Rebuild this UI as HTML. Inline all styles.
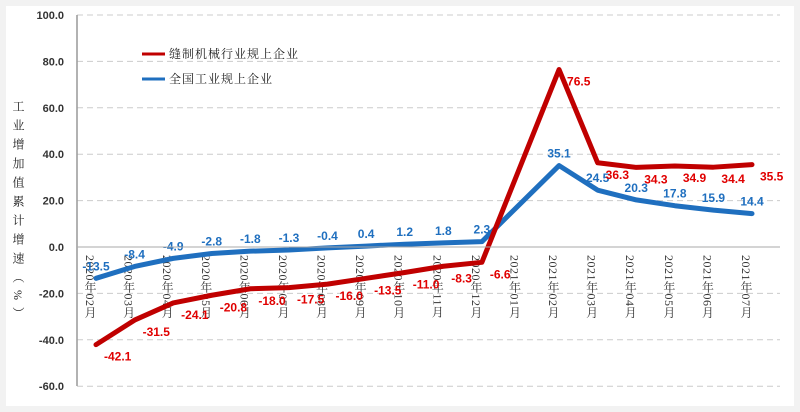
<!DOCTYPE html>
<html><head><meta charset="utf-8"><style>
body{margin:0;background:#f2f2f2;}
svg{display:block;}
</style></head><body>
<svg width="800" height="412" xmlns="http://www.w3.org/2000/svg">
<rect x="6" y="6" width="788" height="400" fill="#fff"/>
<g id="grid"></g><g id="yticks"></g><g id="xticks"></g><g id="series"></g><g id="labels"></g>
<line x1="77" y1="15" x2="77" y2="386" stroke="#999" stroke-width="1.5"/>
<line x1="77" y1="247" x2="780" y2="247" stroke="#aaa" stroke-width="1"/>
<text x="18" y="100" font-family="'Liberation Serif','Noto Serif CJK SC',serif" font-size="12" fill="#222" style="writing-mode:tb;letter-spacing:7px">工业增加值累计增速（%）</text>
<g>
<line x1="142" y1="54" x2="165" y2="54" stroke="#c00000" stroke-width="3"/>
<text x="169" y="58" font-family="'Liberation Serif','Noto Serif CJK SC',serif" font-size="12" fill="#222" letter-spacing="1">缝制机械行业规上企业</text>
<line x1="142" y1="79" x2="165" y2="79" stroke="#1f6fbf" stroke-width="3"/>
<text x="169" y="83" font-family="'Liberation Serif','Noto Serif CJK SC',serif" font-size="12" fill="#222" letter-spacing="1">全国工业规上企业</text>
</g>
</svg>
<script>
const categories=["2020年02月","2020年03月","2020年04月","2020年05月","2020年06月","2020年07月","2020年08月","2020年09月","2020年10月","2020年11月","2020年12月","2021年01月","2021年02月","2021年03月","2021年04月","2021年05月","2021年06月","2021年07月"];
const sewing=[-42.1,-31.5,-24.1,-20.8,-18.0,-17.5,-16.0,-13.5,-11.0,-8.3,-6.6,null,76.5,36.3,34.3,34.9,34.4,35.5];
const national=[-13.5,-8.4,-4.9,-2.8,-1.8,-1.3,-0.4,0.4,1.2,1.8,2.3,null,35.1,24.5,20.3,17.8,15.9,14.4];
const yTicks=[-60,-40,-20,0,20,40,60,80,100];
const NS="http://www.w3.org/2000/svg";
function xs(i){return 96+i*(752-96)/(categories.length-1);}
function ys(v){return 247-v*(247-15)/100;}
function mk(tag,attrs,parent,txt){const e=document.createElementNS(NS,tag);for(const k in attrs)e.setAttribute(k,attrs[k]);if(txt!==undefined)e.textContent=txt;document.getElementById(parent).appendChild(e);return e;}
yTicks.forEach(t=>{
 if(t!==0){const g=mk('line',{x1:77,x2:780,y1:ys(t),y2:ys(t),stroke:'#ccc','stroke-dasharray':'6,4'},'grid');
 
 }
 const l=mk('text',{x:64,y:ys(t)+4,'text-anchor':'end','font-family':'Liberation Sans, sans-serif','font-size':11,'font-weight':'bold',fill:'#333'},'yticks',t.toFixed(1));
 
 
});
categories.forEach((c,i)=>{
 const t=mk('text',{x:xs(i)-6,y:255,'font-family':'Liberation Serif, Noto Serif CJK SC, serif','font-size':12,fill:'#333',style:'writing-mode:tb;letter-spacing:0.5px'},'xticks',c);
 
 
});
function series(vals,color,lab,name,above){
 let d='';vals.forEach((v,i)=>{if(v===null)return;d+=(d?'L':'M')+xs(i)+','+ys(v);});
 const p=mk('path',{d:d,fill:'none',stroke:color,'stroke-width':5,'stroke-linejoin':'round','stroke-linecap':'round'},'series');
 
 
 vals.forEach((v,i)=>{if(v===null)return;
  const t=mk('text',{x:xs(i)+(above?0:8),y:ys(v)+(above?-8:16),'text-anchor':above?'middle':'start','font-family':'Liberation Sans, sans-serif','font-size':12,'font-weight':'bold',fill:lab},'labels',v.toFixed(1));
  
  
 });
}
series(national,'#1f6fbf','#1f6fbf','national',true);
series(sewing,'#c00000','#e00000','sewing',false);
</script>
</body></html>
